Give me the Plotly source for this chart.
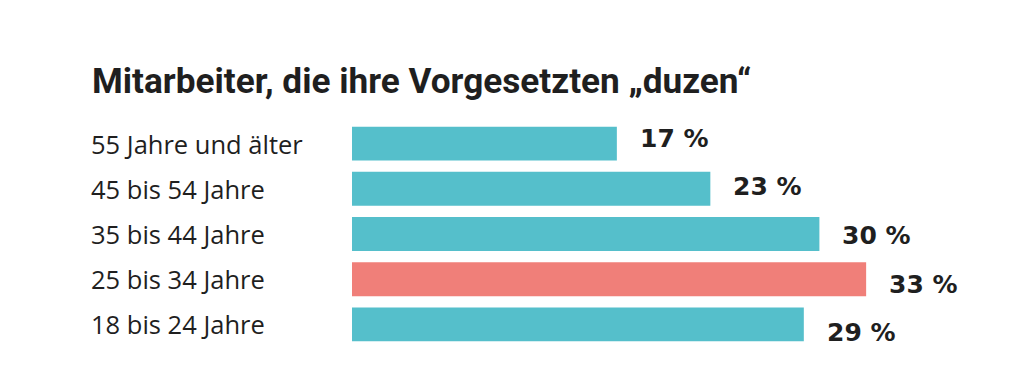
import plotly.graph_objects as go

title = "Mitarbeiter, die ihre Vorgesetzten „duzen“"
categories = ["55 Jahre und älter", "45 bis 54 Jahre", "35 bis 44 Jahre", "25 bis 34 Jahre", "18 bis 24 Jahre"]
values = [17, 23, 30, 33, 29]
highlight = "25 bis 34 Jahre"

TEAL = "#55BFCB"
SALMON = "#F07F79"
TEXT = "#1f1f1f"

OFF = 8  # page body margin
W, H = 1024 - OFF, 392 - OFF
colors = [SALMON if c == highlight else TEAL for c in categories]

fig = go.Figure(go.Bar(
    x=values, y=categories, orientation="h",
    marker=dict(color=colors, line=dict(width=0)),
    width=0.75, hoverinfo="skip",
))

LEFT = (89 - OFF) / W
annotations = [dict(
    text=title, x=(90 - OFF) / W, y=1 - (81 - OFF) / H, xref="paper", yref="paper",
    xanchor="left", yanchor="middle", showarrow=False,
    font=dict(family="Roboto", size=35.2, color=TEXT, weight="bold"),
)]
for i, (c, v) in enumerate(zip(categories, values)):
    annotations.append(dict(
        text=c, x=LEFT, y=c, xref="paper", yref="y",
        xanchor="left", yanchor="middle", showarrow=False,
        font=dict(family="Open Sans", size=25.5, color=TEXT),
    ))
    annotations.append(dict(
        text=f"{v} %", x=v, y=c, xref="x", yref="y",
        xanchor="left", yanchor="middle", showarrow=False,
        xshift=21, yshift=5.5 - 3.5 * i,
        font=dict(family="DejaVu Sans", size=25, color=TEXT, weight="bold"),
    ))

fig.update_layout(
    width=W, height=H,
    margin=dict(l=0, r=0, t=0, b=0),
    paper_bgcolor="white", plot_bgcolor="white",
    showlegend=False,
    xaxis=dict(domain=[(352 - OFF) / W, 1], range=[0, (W - 352 + OFF) / 15.58], visible=False, fixedrange=True),
    yaxis=dict(domain=[45 / H, 1 - (121 - OFF) / H], categoryorder="array", categoryarray=categories,
               autorange=False, range=[4.5, -0.5], visible=False, fixedrange=True),
    annotations=annotations,
)

fig.write_html("out.html")
